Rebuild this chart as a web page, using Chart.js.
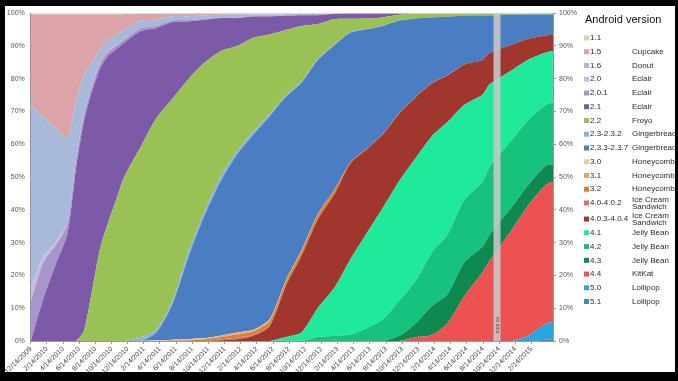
<!DOCTYPE html>
<html>
<head>
<meta charset="utf-8">
<script src="https://cdn.jsdelivr.net/npm/chart.js@4.4.0/dist/chart.umd.min.js"></script>
<style>
  html, body { margin: 0; padding: 0; background: #000; }
  #wrap { position: absolute; left: 5px; top: 6px; width: 670px; height: 366px; background: #fff; }
</style>
</head>
<body>
<div id="wrap"><canvas id="androidChart" width="670" height="366"></canvas></div>
<script>
// Dashboard dates (x positions)
const dates = ['2009-12-14','2010-02-01','2010-03-15','2010-05-01','2010-06-01','2010-07-01','2010-08-01','2010-09-01',
  '2010-10-01','2010-11-01','2010-12-01','2011-02-01','2011-04-01','2011-06-01','2011-08-01','2011-10-01','2011-12-01',
  '2012-02-01','2012-04-01','2012-06-01','2012-08-01','2012-10-01','2012-12-01','2013-02-04','2013-04-02','2013-06-03',
  '2013-08-01','2013-10-01','2013-12-02','2014-02-04','2014-04-01','2014-06-04','2014-08-12','2014-09-09','2014-12-01',
  '2015-02-02','2015-04-06','2015-05-04'];

const xTickLabels = ['12/14/2009','2/14/2010','4/14/2010','6/14/2010','8/14/2010','10/14/2010','12/14/2010',
  '2/14/2011','4/14/2011','6/14/2011','8/14/2011','10/14/2011','12/14/2011','2/14/2012','4/14/2012','6/14/2012',
  '8/14/2012','10/14/2012','12/14/2012','2/14/2013','4/14/2013','6/14/2013','8/14/2013','10/14/2013','12/14/2013',
  '2/14/2014','4/14/2014','6/14/2014','8/14/2014','10/14/2014','12/14/2014','2/14/2015','4/14/2015'];

const yTickLabels = ['0%','10%','20%','30%','40%','50%','60%','70%','80%','90%','100%'];

// Legend order (top of the stack first)
const versions = ['1.1','1.5','1.6','2.0','2.0.1','2.1','2.2','2.3-2.3.2','2.3.3-2.3.7','3.0','3.1','3.2',
  '4.0-4.0.2','4.0.3-4.0.4','4.1','4.2','4.3','4.4','5.0','5.1'];
const versionNames = ['','Cupcake','Donut','Eclair','Eclair','Eclair','Froyo','Gingerbread','Gingerbread',
  'Honeycomb','Honeycomb','Honeycomb','Ice Cream\nSandwich','Ice Cream\nSandwich','Jelly Bean','Jelly Bean',
  'Jelly Bean','KitKat','Lollipop','Lollipop'];
const versionColors = ['#d3dba5','#dca4a9','#a9b9d9','#c4bddf','#a895c9','#7d5aa7','#9ac153','#8db0dc','#4b7dc3',
  '#f2c6a6','#e3a46d','#d9822e','#d5726a','#a1362e','#1fe99b','#17c27e','#0e8a50','#ee5152','#26a6df','#4b87a6'];

// Share in percent, one value per date
const v1_1 = [0.3,0.3,0.3,0.3,0.3,0.3,0.3,0.3,0.3,0.3,0.3,0.2,0.2,0.1,0.1,0.1,0,0,0,0,0,0,0,0,0,0,0,0,0,0,0,0,0,0,0,0,0,0];
const v1_5 = [27.7,31.2,34.7,37.7,26.7,18.7,14.7,10.7,7.9,6.5,4.8,2.1,1.7,0.8,0.8,0.6,0.5,0.5,0.4,0.4,0.3,0.2,0.2,0,0,0,0,0,0,0,0,0,0,0,0,0,0,0];
const v1_6 = [56,42.5,35,25.7,18.2,12,7,4.2,3.4,3,2.8,2.3,1.9,1.3,1.2,1.0,0.8,0.8,0.5,0.5,0.5,0.4,0.4,0.2,0,0,0,0,0,0,0,0,0,0,0,0,0,0];
const v2_0 = [4,2,1,0.3,0.3,0.2,0.2,0.2,0.1,0.1,0.1,0,0,0,0,0,0,0,0,0,0,0,0,0,0,0,0,0,0,0,0,0,0,0,0,0,0,0];
const v2_0_1 = [12,11,6,3,2.5,2.0,1.8,1.6,1.3,1.1,1.0,0.9,0.7,0.5,0.4,0.3,0.2,0.2,0.1,0.1,0,0,0,0,0,0,0,0,0,0,0,0,0,0,0,0,0,0];
const v2_1 = [0,13,23,33,52,63.8,61,55,51,46,41,35.5,27.5,23.3,17.5,13,10,8.5,6.5,5.5,4.3,3.3,2.7,1.6,1.7,1.6,1.3,0.5,0,0,0,0,0,0,0,0,0,0];
const v2_2 = [0,0,0,0,0,3,15,28,36,43,50,58,64.6,61.6,52.5,45.2,38,32,28.7,24.4,20,16.8,10.6,7.6,4.0,3.2,2.5,1.7,1.6,1.3,1.1,0.8,0.7,0.7,0.5,0.4,0.4,0.4];
const v2_3 = [0,0,0,0,0,0,0,0,0,0,0,1.0,0.7,1.0,1.5,1.2,1.5,1.0,0.8,0.6,0.5,0.4,0.3,0.2,0.2,0.1,0.1,0.1,0,0,0,0,0,0,0,0,0,0];
const v2_3_3 = [0,0,0,0,0,0,0,0,0,0,0,0,2.5,11,25.4,37.7,47.3,54.4,59.6,61.9,56,51,47,44,39.6,36.4,33.0,28.4,24.1,20.0,17.8,14.9,13.6,11.4,9.1,7.4,6.4,6.2];
const v3_0 = [0,0,0,0,0,0,0,0,0,0,0,0,0.2,0.1,0.1,0.1,0.1,0.1,0.1,0.1,0,0,0,0,0,0,0,0,0,0,0,0,0,0,0,0,0,0];
const v3_1 = [0,0,0,0,0,0,0,0,0,0,0,0,0,0.3,0.3,0.3,0.4,0.5,0.4,0.4,0.3,0.3,0.2,0.1,0,0,0,0,0,0,0,0,0,0,0,0,0,0];
const v3_2 = [0,0,0,0,0,0,0,0,0,0,0,0,0,0,0.2,0.5,0.7,0.9,1.0,1.3,1.2,1.3,1.3,1.2,0.2,0.1,0.1,0.1,0.1,0.1,0.1,0,0,0,0,0,0,0];
const v4_0 = [0,0,0,0,0,0,0,0,0,0,0,0,0,0,0,0,0.3,0.6,0.3,0.3,0.2,0.1,0.1,0,0,0,0,0,0,0,0,0,0,0,0,0,0,0];
const v4_0_3 = [0,0,0,0,0,0,0,0,0,0,0,0,0,0,0,0,0.2,0.5,1.6,4.5,15.5,23.5,27,28.6,29.3,25.6,22.5,20.6,18.6,16.1,14.3,12.3,10.6,9.6,7.8,6.4,5.2,4.9];
const v4_1 = [0,0,0,0,0,0,0,0,0,0,0,0,0,0,0,0,0,0,0,0,1.2,2.7,9.0,14.9,23.0,29.0,34.0,36.5,37.4,35.5,34.4,29.0,26.5,25.1,21.3,18.4,16.0,15.7];
const v4_2 = [0,0,0,0,0,0,0,0,0,0,0,0,0,0,0,0,0,0,0,0,0,0,1.2,1.6,2.0,4.0,6.5,10.6,12.9,16.3,18.1,19.1,19.8,20.7,20.4,19.8,18.5,19.0];
const v4_3 = [0,0,0,0,0,0,0,0,0,0,0,0,0,0,0,0,0,0,0,0,0,0,0,0,0,0,0,1.5,4.2,8.9,8.9,10.3,7.9,8.0,7.0,6.3,6.0,5.2];
const v4_4 = [0,0,0,0,0,0,0,0,0,0,0,0,0,0,0,0,0,0,0,0,0,0,0,0,0,0,0,0,1.1,1.8,5.3,13.6,20.9,24.5,33.9,39.7,42.3,42.8];
const v5_0 = [0,0,0,0,0,0,0,0,0,0,0,0,0,0,0,0,0,0,0,0,0,0,0,0,0,0,0,0,0,0,0,0,0,0,0,1.6,4.8,5.3];
const v5_1 = [0,0,0,0,0,0,0,0,0,0,0,0,0,0,0,0,0,0,0,0,0,0,0,0,0,0,0,0,0,0,0,0,0,0,0,0,0.4,0.5];

const shares = [v1_1, v1_5, v1_6, v2_0, v2_0_1, v2_1, v2_2, v2_3, v2_3_3, v3_0, v3_1, v3_2,
  v4_0, v4_0_3, v4_1, v4_2, v4_3, v4_4, v5_0, v5_1];

// no data collected in Oct/Nov 2014
const noDataFrom = '2014-09-23';
const noDataTo = '2014-10-19';

function monthsSinceStart(d) {
    const [y, m, day] = d.split('-').map(Number);
    return (y - 2009) * 12 + (m - 12) + (day - 14) / 30;
}

const xs = dates.map(monthsSinceStart);

// newest version at the bottom of the stack
const datasets = [];
for (let i = versions.length - 1; i >= 0; i--) {
    datasets.push({
        label: versions[i],
        data: shares[i].map((v, j) => ({ x: xs[j], y: v })),
        backgroundColor: versionColors[i],
        borderColor: 'rgba(0,0,0,0)',
        borderWidth: 0,
        pointRadius: 0,
        tension: 0.25,
        fill: datasets.length === 0 ? 'origin' : '-1'
    });
}

const FONT = '"Liberation Sans", Arial, sans-serif';
Chart.defaults.font.family = FONT;

const noDataPlugin = {
    id: 'noData',
    afterDatasetsDraw(chart) {
        const { ctx, chartArea, scales } = chart;
        const x1 = scales.x.getPixelForValue(monthsSinceStart(noDataFrom));
        const x2 = scales.x.getPixelForValue(monthsSinceStart(noDataTo));
        ctx.save();
        ctx.fillStyle = 'rgba(200,200,202,0.88)';
        ctx.fillRect(x1, chartArea.top, x2 - x1, chartArea.bottom - chartArea.top);
        ctx.translate((x1 + x2) / 2, chartArea.bottom - 16);
        ctx.rotate(Math.PI / 2);
        ctx.fillStyle = '#555';
        ctx.font = '5px ' + FONT;
        ctx.textAlign = 'center';
        ctx.textBaseline = 'middle';
        ctx.fillText('no data', 0, 0);
        ctx.restore();
    }
};

const legendPlugin = {
    id: 'versionLegend',
    afterDraw(chart) {
        const ctx = chart.ctx;
        ctx.save();
        ctx.textBaseline = 'middle';
        ctx.fillStyle = '#111';
        ctx.font = '11px ' + FONT;
        ctx.fillText('Android version', 580, 14);
        ctx.font = '8px ' + FONT;
        versions.forEach((v, i) => {
            const y = 32 + 13.75 * i + (i >= 13 ? 2.3 : 0);
            ctx.fillStyle = versionColors[i];
            ctx.fillRect(579, y - 2.5, 5, 5);
            ctx.fillStyle = '#2a2a2a';
            ctx.fillText(v, 585, y);
            const name = versionNames[i].split('\n');
            if (name.length > 1) {
                ctx.fillText(name[0], 627, y - 3.5);
                ctx.fillText(name[1], 627, y + 3.5);
            } else {
                ctx.fillText(name[0], 627, y);
            }
        });
        ctx.restore();
    }
};

const yTicks = {
    stepSize: 10,
    autoSkip: false,
    color: '#555',
    font: { size: 7 },
    padding: 3,
    callback: v => yTickLabels[Math.round(v / 10)]
};

new Chart(document.getElementById('androidChart').getContext('2d'), {
    type: 'line',
    data: { datasets },
    plugins: [noDataPlugin, legendPlugin],
    options: {
        responsive: false,
        animation: false,
        layout: { padding: { top: 5, left: 0, right: 0, bottom: 0 } },
        plugins: {
            legend: { display: false },
            tooltip: { enabled: false }
        },
        scales: {
            x: {
                type: 'linear',
                min: 0,
                max: xs[xs.length - 1],
                afterBuildTicks: scale => {
                    scale.ticks = scale.ticks.filter(t => Math.abs(t.value / 2 - Math.round(t.value / 2)) < 1e-6 && t.value <= 64);
                },
                afterFit: scale => { scale.height = 31; },
                ticks: {
                    stepSize: 2,
                    autoSkip: false,
                    minRotation: 45,
                    maxRotation: 45,
                    color: '#444',
                    font: { size: 7 },
                    padding: 1,
                    callback: v => xTickLabels[Math.round(v / 2)]
                },
                grid: { drawOnChartArea: false, tickLength: 3, color: '#999' },
                border: { color: '#999' }
            },
            y: {
                stacked: true,
                position: 'left',
                min: 0,
                max: 100,
                z: 1,
                afterFit: scale => { scale.width = 25; },
                ticks: yTicks,
                grid: { color: 'rgba(236,236,236,0.85)', tickLength: 3 },
                border: { color: '#999' }
            },
            y2: {
                position: 'right',
                min: 0,
                max: 100,
                afterFit: scale => { scale.width = 122; },
                ticks: yTicks,
                grid: { drawOnChartArea: false, tickLength: 3, color: '#999' },
                border: { color: '#999' }
            }
        }
    }
});
</script>
</body>
</html>
